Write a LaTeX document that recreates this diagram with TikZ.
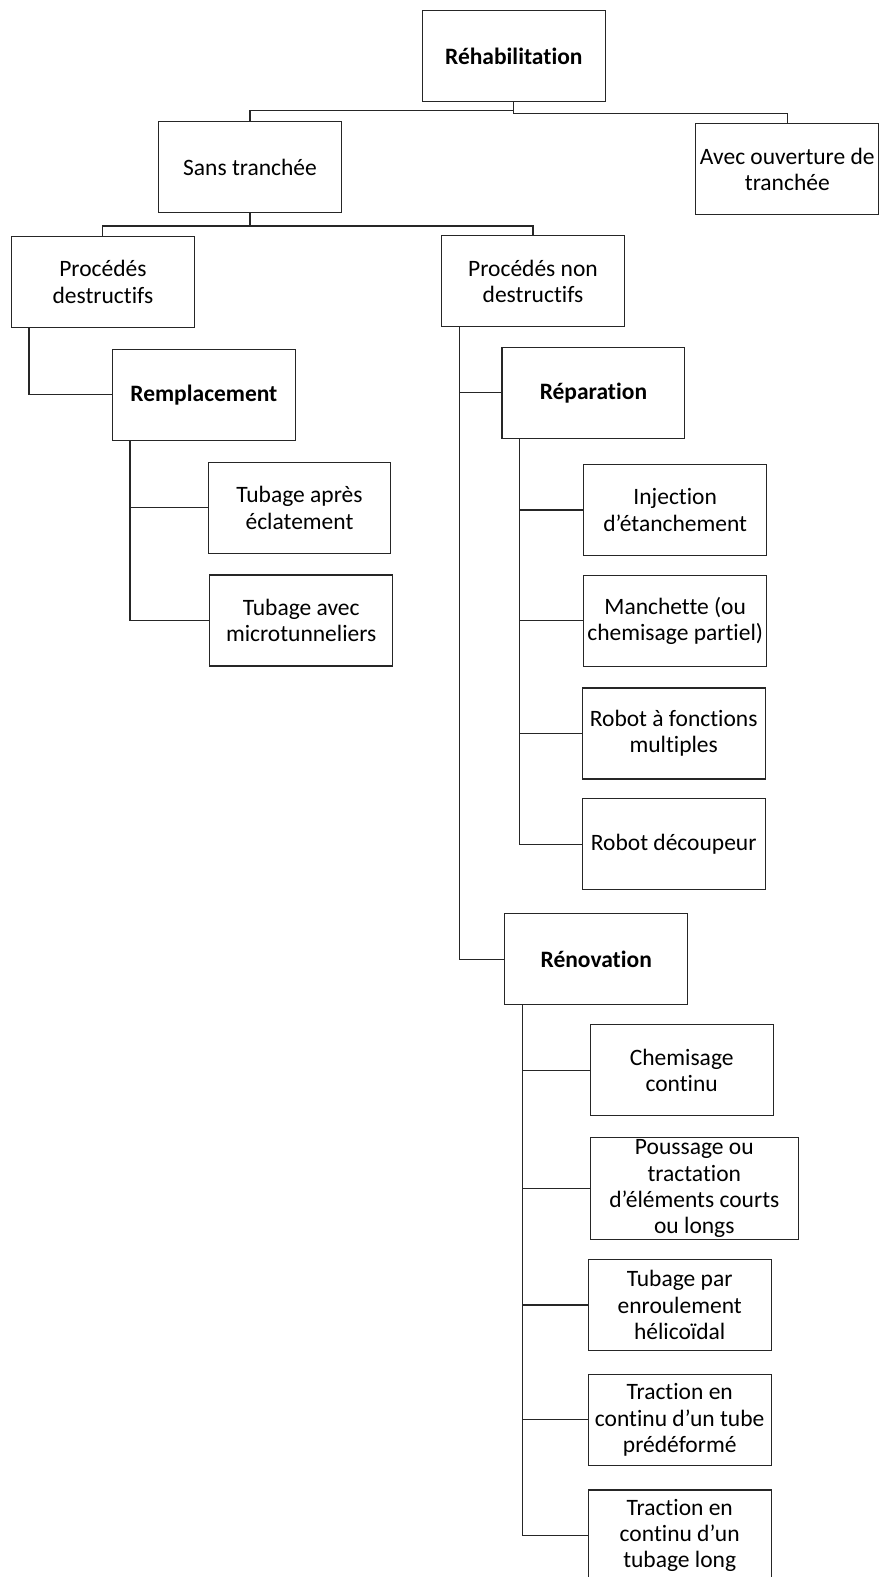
\documentclass[tikz,border=0pt]{standalone}
\usepackage{fontspec}
\setmainfont{Carlito}[Ligatures=CommonOff]
\begin{document}
\begin{tikzpicture}[x=1pt,y=-1pt,
  box/.style={draw=black!85,line width=1.1pt,minimum width=182.8pt,minimum height=91pt,
    align=center,inner sep=0pt,font=\fontsize{23.5}{26.4}\selectfont},
  wide/.style={box,minimum width=208pt,minimum height=102pt},
  bx/.style={box,font=\fontsize{23.5}{26.4}\selectfont\bfseries},
  link/.style={draw=black!85,line width=1.1pt}]
\clip (0,0) rectangle (880,1577);
\fill[white] (0,0) rectangle (880,1577);
\node[bx] (reh) at (513.8,56.2) {Réhabilitation};
\node[box] (sans) at (250,167.2) {Sans tranchée};
\node[box] (avec) at (787.3,169.2) {Avec ouverture de\\tranchée};
\node[box] (pd) at (102.9,281.9) {Procédés\\destructifs};
\node[box] (pnd) at (533,281.2) {Procédés non\\destructifs};
\node[bx] (rem) at (203.9,394.7) {Remplacement};
\node[bx] (rep) at (593.4,392.8) {Réparation};
\node[box] (tap) at (299.5,507.8) {Tubage après\\éclatement};
\node[box] (tav) at (301.2,620.5) {Tubage avec\\microtunneliers};
\node[box] (inj) at (675.2,510) {Injection\\d’étanchement};
\node[box] (man) at (675.2,620.7) {Manchette (ou\\chemisage partiel)};
\node[box] (rf) at (673.7,733.5) {Robot à fonctions\\multiples};
\node[box] (rd) at (673.7,844.3) {Robot découpeur};
\node[bx] (ren) at (596.2,959.3) {Rénovation};
\node[box] (che) at (681.7,1070.3) {Chemisage\\continu};
\node[wide] (pou) at (694.3,1188.7) {Poussage ou\\tractation\\d’éléments courts\\ou longs};
\node[box] (tub) at (679.7,1305) {Tubage par\\enroulement\\hélicoïdal};
\node[box] (tr1) at (679.7,1419.8) {Traction en\\continu d’un tube\\prédéformé};
\node[box] (tr2) at (679.7,1535.5) {Traction en\\continu d’un\\tubage long};
% connectors
\draw[link] (reh.south) -- ++(0,8.3) -| (sans.north);
\draw[link] (reh.south) -- ++(0,11) -| (avec.north);
\draw[link] (sans.south) -- ++(0,12.7) -| (pd.north);
\draw[link] (sans.south) -- ++(0,12.7) -| (pnd.north);
\draw[link] ([xshift=18pt]pd.south west) |- (rem.west);
\draw[link] ([xshift=18pt]pnd.south west) |- (rep.west);
\draw[link] ([xshift=18pt]pnd.south west) |- (ren.west);
\draw[link] ([xshift=18pt]rem.south west) |- (tap.west);
\draw[link] ([xshift=18pt]rem.south west) |- (tav.west);
\draw[link] ([xshift=18pt]rep.south west) |- (inj.west);
\draw[link] ([xshift=18pt]rep.south west) |- (man.west);
\draw[link] ([xshift=18pt]rep.south west) |- (rf.west);
\draw[link] ([xshift=18pt]rep.south west) |- (rd.west);
\draw[link] ([xshift=18pt]ren.south west) |- (che.west);
\draw[link] ([xshift=18pt]ren.south west) |- (pou.west);
\draw[link] ([xshift=18pt]ren.south west) |- (tub.west);
\draw[link] ([xshift=18pt]ren.south west) |- (tr1.west);
\draw[link] ([xshift=18pt]ren.south west) |- (tr2.west);
\end{tikzpicture}
\end{document}
